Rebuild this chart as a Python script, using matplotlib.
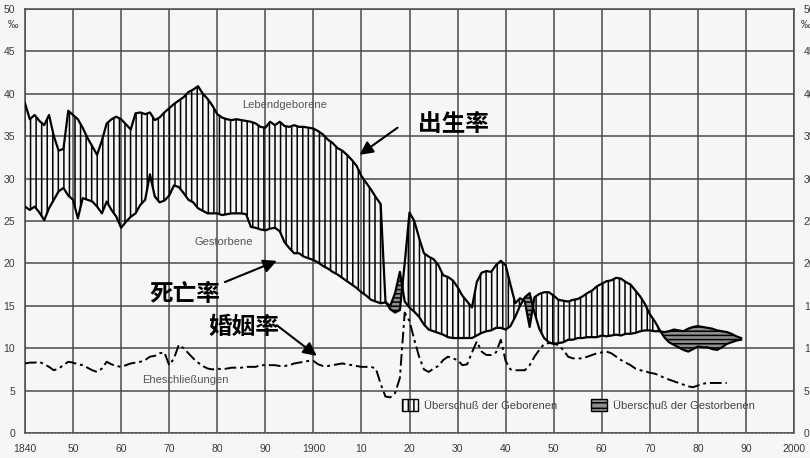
import numpy as np
import matplotlib
matplotlib.use("Agg")
import matplotlib.pyplot as plt
import matplotlib.patches as mpatches

# rates per 1000 inhabitants (1840-1989)
years = np.arange(1840, 1990)
births = [
    38.9, 37.0, 37.5, 36.8, 36.3, 37.5, 35.0, 33.3, 33.5, 38.0,
    37.5, 37.0, 36.0, 34.8, 33.8, 32.8, 34.5, 36.5, 37.0, 37.3,
    37.0, 36.4, 35.8, 37.7, 37.8, 37.6, 37.8, 36.9, 37.2, 37.8,
    38.3, 38.8, 39.2, 39.6, 40.2, 40.5, 40.9, 40.0, 39.4, 38.6,
    37.6, 37.2, 37.0, 36.9, 37.0, 36.9, 36.8, 36.7, 36.5, 36.1,
    36.0, 36.7, 36.3, 36.7, 36.2, 36.1, 36.3, 36.1, 36.1, 36.0,
    35.9, 35.6, 35.2, 34.6, 34.2, 33.6, 33.3, 32.8, 32.2, 31.5,
    30.3, 29.5, 28.7, 27.8, 27.0, 15.5, 14.6, 14.2, 14.5, 20.0,
    26.0, 25.0, 23.0, 21.2, 20.8, 20.5, 19.8, 18.6, 18.4, 18.0,
    17.2, 16.2, 15.5, 14.8, 17.8, 18.9, 19.1, 19.0, 19.8, 20.3,
    19.8, 17.5, 15.3, 15.9, 15.5, 12.5, 16.0, 16.4, 16.6, 16.6,
    16.2, 15.7, 15.6, 15.5, 15.7, 15.8, 16.1, 16.5, 16.8, 17.3,
    17.6, 17.9, 18.0, 18.3, 18.2, 17.8, 17.5, 16.8, 16.1, 15.2,
    14.0, 13.2, 12.2, 11.3, 10.7, 10.4, 10.1, 9.8, 9.6, 9.9,
    10.2, 10.1, 10.1, 9.9, 9.8, 10.1, 10.5, 10.7, 10.9, 11.0,
]
deaths = [
    26.7, 26.3, 26.7, 26.0, 25.1, 26.5, 27.5, 28.5, 28.9, 28.0,
    27.5, 25.3, 27.7, 27.5, 27.3, 26.7, 25.9, 27.3, 26.3, 25.5,
    24.2, 24.9, 25.5, 25.9, 26.9, 27.5, 30.5, 27.9, 27.2, 27.4,
    28.0, 29.2, 29.0, 28.3, 27.5, 27.2, 26.5, 26.2, 25.9, 25.9,
    25.9, 25.7, 25.8, 25.9, 25.9, 25.9, 25.8, 24.3, 24.2, 24.0,
    23.9, 24.1, 24.2, 23.8, 22.5, 21.8, 21.2, 21.2, 20.8, 20.6,
    20.4, 20.1, 19.7, 19.4, 19.0, 18.7, 18.3, 17.9, 17.5, 17.1,
    16.6, 16.2, 15.7, 15.5, 15.3, 15.4, 15.0, 16.5, 19.0, 15.5,
    14.8, 14.3, 13.7, 12.8, 12.2, 12.0, 11.8, 11.6, 11.3, 11.2,
    11.2, 11.2, 11.2, 11.2, 11.5, 11.8, 12.0, 12.1, 12.4, 12.4,
    12.2, 12.6, 13.7, 15.0, 16.0, 16.5, 14.2, 12.3, 11.2, 10.7,
    10.5, 10.6, 10.7, 11.0, 11.0, 11.2, 11.2, 11.3, 11.3, 11.3,
    11.5, 11.4, 11.5, 11.6, 11.5, 11.7, 11.7, 11.8, 12.0, 12.1,
    12.1, 12.0, 12.0, 11.9, 12.0, 12.2, 12.1, 12.0, 12.3, 12.5,
    12.6, 12.5, 12.4, 12.3, 12.1, 12.0, 11.9, 11.7, 11.4, 11.2,
]
marriage_years = np.arange(1840, 1987)
marriages = [
    8.2, 8.3, 8.3, 8.4, 8.1, 7.8, 7.4, 7.6, 8.0, 8.4,
    8.3, 8.1, 8.0, 7.7, 7.4, 7.2, 7.6, 8.4, 8.1, 7.9,
    7.8, 8.0, 8.2, 8.3, 8.4, 8.6, 9.0, 9.1, 9.4, 9.5,
    8.0, 8.8, 10.4, 10.0, 9.4, 8.8, 8.3, 7.9, 7.6, 7.5,
    7.6, 7.5, 7.6, 7.7, 7.7, 7.7, 7.8, 7.8, 7.8, 8.0,
    8.0, 8.0, 8.0, 7.9, 7.9, 8.0, 8.2, 8.3, 8.4, 8.5,
    8.5, 8.1, 7.9, 7.9, 8.0, 8.1, 8.2, 8.1, 8.0, 7.9,
    7.8, 7.8, 7.8, 7.6, 5.8, 4.3, 4.2, 4.7, 6.5, 14.2,
    13.2, 11.0, 9.0, 7.5, 7.2, 7.6, 7.9, 8.6, 9.0, 8.8,
    8.6, 8.0, 8.1, 9.5, 10.8, 9.6, 9.2, 9.2, 9.5, 11.0,
    8.5, 7.5, 7.4, 7.4, 7.4, 8.0, 9.0, 9.8, 10.5, 10.6,
    10.6, 10.3, 9.8, 9.0, 8.8, 8.8, 8.8, 9.0, 9.2, 9.4,
    9.5, 9.6, 9.4, 9.0, 8.6, 8.3, 8.0, 7.6, 7.4, 7.3,
    7.1, 7.0, 6.8, 6.5, 6.3, 6.1, 5.9, 5.7, 5.5, 5.4,
    5.6, 5.8, 5.9, 5.9, 5.9, 5.9, 5.9,
]

x_ticks = np.arange(1840, 2001, 10)
x_labels = ["1840", "50", "60", "70", "80", "90", "1900", "10", "20",
            "30", "40", "50", "60", "70", "80", "90", "2000"]
y_ticks = np.arange(0, 51, 5)

LATIN = ["Liberation Sans", "DejaVu Sans"]
CJK = ["Noto Sans CJK SC", "DejaVu Sans"]
plt.rcParams["font.family"] = LATIN
plt.rcParams["hatch.color"] = "black"
plt.rcParams["hatch.linewidth"] = 1.1

paper = "#f6f6f6"
grid_col = "#4a4a4a"
text_col = "#3a3a3a"

fig = plt.figure(figsize=(8.1, 4.58), dpi=100, facecolor=paper)
ax = fig.add_axes([25 / 810, 1 - 433 / 458, 769 / 810, 424 / 458])
ax.set_facecolor(paper)

b = np.array(births)
d = np.array(deaths)

# surplus of births: vertical hatching, surplus of deaths: horizontal hatching
ax.fill_between(years, d, b, where=b >= d, interpolate=True,
                facecolor="none", edgecolor="black", hatch="|||", linewidth=0, zorder=2)
ax.fill_between(years, b, d, where=d > b, interpolate=True,
                facecolor="#8e8e8e", edgecolor="black", hatch="----", linewidth=0, zorder=2)

ax.plot(years, b, color="black", lw=1.6, zorder=3)
ax.plot(years, d, color="black", lw=1.6, zorder=3)
ax.plot(marriage_years, marriages, color="black", lw=1.4,
        linestyle=(0, (6, 2, 1.5, 2)), zorder=3)

ax.set_xlim(1840, 2000)
ax.set_ylim(0, 50)
ax.set_xticks(x_ticks)
ax.set_xticklabels(x_labels)
ax.set_yticks(y_ticks)
ax.grid(True, color=grid_col, lw=1.1, zorder=1)
ax.set_axisbelow(True)
ax.tick_params(axis="both", length=0, labelsize=7.5, colors=text_col)
ax.tick_params(axis="x", pad=8)
ax.tick_params(axis="y", pad=7, labelright=True)

for side in ["left", "right", "top"]:
    ax.spines[side].set_color(grid_col)
    ax.spines[side].set_linewidth(1.1)
ax.spines["bottom"].set_color("#555555")
ax.spines["bottom"].set_linestyle((0, (1, 1.2)))
ax.spines["bottom"].set_linewidth(1.2)

# per mille signs under the top tick labels
ax.text(-0.009, 48.1, "‰", transform=ax.get_yaxis_transform(), ha="right", va="center",
        fontsize=7.5, color=text_col)
ax.text(1.009, 48.1, "‰", transform=ax.get_yaxis_transform(), ha="left", va="center",
        fontsize=7.5, color=text_col)

# small series names
ax.text(1894, 38.7, "Lebendgeborene", fontsize=8, color="#555555", ha="center", va="center")
ax.text(1881.4, 22.5, "Gestorbene", fontsize=8, color="#555555", ha="center", va="center")
ax.text(1873.3, 6.25, "Eheschließungen", fontsize=8, color="#555555", ha="center", va="center")

# chinese annotations
arrow = dict(arrowstyle="-|>", color="black", lw=1.5, mutation_scale=20, shrinkA=0, shrinkB=0)
ax.annotate("", xy=(1909.6, 32.8), xytext=(1917.5, 36.0), arrowprops=arrow, zorder=5)
ax.text(1929.2, 36.4, "出生率", family=CJK, fontsize=17, fontweight="bold",
        ha="center", va="center", zorder=5)
ax.annotate("", xy=(1892.4, 20.3), xytext=(1881.6, 17.8), arrowprops=arrow, zorder=5)
ax.text(1873.3, 16.4, "死亡率", family=CJK, fontsize=17, fontweight="bold",
        ha="center", va="center", zorder=5)
ax.annotate("", xy=(1900.7, 9.1), xytext=(1892.4, 12.7), arrowprops=arrow, zorder=5)
ax.text(1885.5, 12.5, "婚姻率", family=CJK, fontsize=17, fontweight="bold",
        ha="center", va="center", zorder=5)

handles = [
    mpatches.Patch(facecolor="none", edgecolor="black", hatch="|||",
                   label="Überschuß der Geborenen"),
    mpatches.Patch(facecolor="#8e8e8e", edgecolor="black", hatch="---",
                   label="Überschuß der Gestorbenen"),
]
leg = ax.legend(handles=handles, loc="center", bbox_to_anchor=(0.72, 0.066), ncol=2,
                frameon=False, fontsize=8, handlelength=1.4, handleheight=1.4,
                handletextpad=0.6, columnspacing=3.0)
for t in leg.get_texts():
    t.set_color("#444444")

fig.savefig("out.png", dpi=100, facecolor=paper)
